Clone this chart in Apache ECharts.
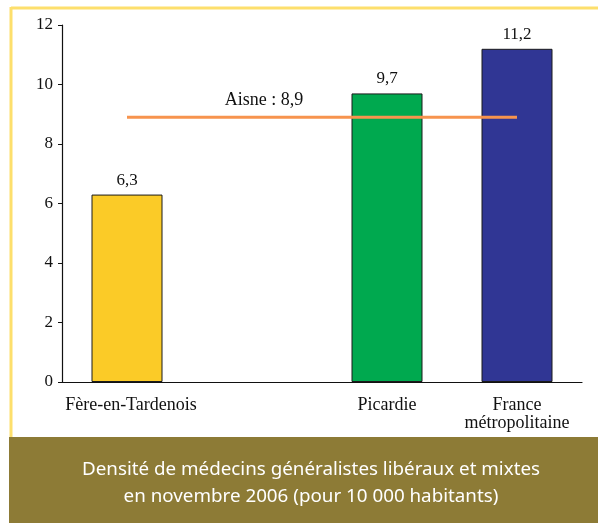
<!DOCTYPE html>
<html><head><meta charset="utf-8">
<script src="https://cdn.jsdelivr.net/npm/echarts@6/dist/echarts.min.js"></script>
<style>html,body{margin:0;padding:0;background:#fff}#c{width:598px;height:523px}</style>
</head><body><div id="c"></div>
<script>
const categories = ['Fère-en-Tardenois', '', 'Picardie', 'France\nmétropolitaine'];
const values = [6.3, null, 9.7, 11.2];
const barColors = ['#FBCB27', '#ffffff', '#00A94F', '#303694'];
const aisneValue = 8.9;
const aisneLabel = 'Aisne : 8,9';
const yTicks = [0, 2, 4, 6, 8, 10, 12];
const captionLines = ['Densité de médecins généralistes libéraux et mixtes', 'en novembre 2006 (pour 10 000 habitants)'];

const chart = echarts.init(document.getElementById('c'), null, {renderer: 'canvas'});
const serif = 'Liberation Serif';
chart.setOption({
  animation: false,
  grid: {left: 62, right: 16, top: 25, bottom: 141},
  xAxis: {
    type: 'category',
    data: categories.map((c, i) => i === 0 ? {value: c, textStyle: {padding: [0, 0, 0, 8]}} : c),
    axisLine: {lineStyle: {color: '#111', width: 1.2}},
    axisTick: {show: false},
    axisLabel: {fontFamily: serif, fontSize: 18, color: '#111', margin: 14, lineHeight: 18, interval: 0}
  },
  yAxis: {
    type: 'value', min: yTicks[0], max: yTicks[yTicks.length - 1], interval: 2,
    axisLine: {show: true, lineStyle: {color: '#111', width: 1.2}},
    axisTick: {show: true, length: 4, lineStyle: {color: '#111'}},
    splitLine: {show: false},
    axisLabel: {fontFamily: serif, fontSize: 17, color: '#111', margin: 9}
  },
  series: [
    {
      type: 'bar',
      barWidth: 71,
      data: values.map((v, i) => v == null ? '-' : {value: v, itemStyle: {color: barColors[i]}}),
      itemStyle: {borderColor: '#1a1a1a', borderWidth: 1},
      label: {show: true, position: 'top', distance: 6, fontFamily: serif, fontSize: 17, color: '#111',
        formatter: p => String(p.value).replace('.', ',')}
    },
    {
      type: 'line',
      data: categories.map((c, i) => i === 1 ? {value: aisneValue, label: {show: true, formatter: aisneLabel, position: 'top', distance: 8, offset: [7, 0], fontFamily: serif, fontSize: 18, color: '#111'}} : aisneValue),
      symbol: 'circle',
      symbolSize: 0,
      showSymbol: true,
      lineStyle: {color: '#F7944E', width: 3},
      z: 5
    }
  ],
  graphic: [
    {type: 'line', shape: {x1: 11, y1: 8, x2: 598, y2: 8}, style: {stroke: '#FDDF6C', lineWidth: 3}},
    {type: 'line', shape: {x1: 11, y1: 7, x2: 11, y2: 437}, style: {stroke: '#FDDF6C', lineWidth: 3}},
    {type: 'rect', shape: {x: 9, y: 437, width: 589, height: 86}, style: {fill: '#8D7B36'}},
    {type: 'text', x: 311, y: 470, style: {text: captionLines[0], fill: '#fff', font: '18.8px "Noto Sans"', align: 'center', verticalAlign: 'middle'}},
    {type: 'text', x: 311, y: 497, style: {text: captionLines[1], fill: '#fff', font: '18.8px "Noto Sans"', align: 'center', verticalAlign: 'middle'}}
  ]
});
</script></body></html>
